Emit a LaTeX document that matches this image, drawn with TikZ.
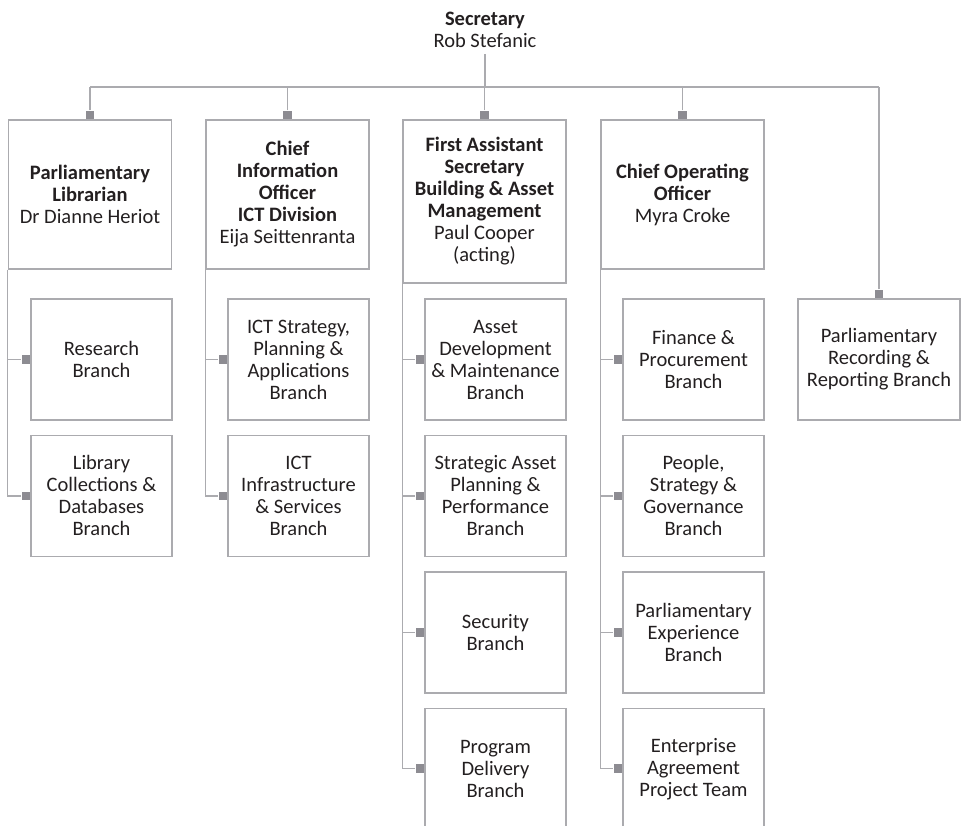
\documentclass[tikz,border=0pt]{standalone}
\usepackage{fontspec}
\setmainfont{Carlito}
\usetikzlibrary{positioning}
\usetikzlibrary{calc}
\definecolor{rulegray}{HTML}{ABABAF}
\definecolor{stubgray}{HTML}{8D8C92}
\definecolor{ink}{HTML}{231F20}
\newcommand{\hd}[1]{\textbf{#1}}

\begin{document}
\begin{tikzpicture}[x=1pt,y=-1pt,
    every node/.style={font=\fontsize{20.5}{22}\selectfont, text=ink},
    head/.style={draw=rulegray, line width=1.4pt, minimum width=163pt, minimum height=149pt, align=center, inner sep=2pt},
    unit/.style={draw=rulegray, line width=1.4pt, minimum width=141pt, minimum height=121pt, align=center, inner sep=2pt},
    stub/.style={fill=stubgray, minimum size=8.5pt, inner sep=0pt},
    link/.style={draw=rulegray, line width=1.3pt}]
    \useasboundingbox (0,0) rectangle (961,826);

    % secretary and division heads
    \node[align=center, inner sep=6pt] (sec) at (485,30) {\hd{Secretary}\\Rob Stefanic};
    \coordinate (bus) at (0,87);
    \node[head] (lib) at (90,194.5) {\hd{Parliamentary}\\\hd{Librarian}\\Dr Dianne Heriot};
    \node[head] (cio) at (287.5,194.5) {\hd{Chief}\\\hd{Information}\\\hd{Officer}\\\hd{ICT Division}\\Eija Seittenranta};
    \node[head, minimum height=163pt] (fas) at (484.5,201.5) {\hd{First Assistant}\\\hd{Secretary}\\\hd{Building \& Asset}\\\hd{Management}\\Paul Cooper\\(acting)};
    \node[head] (coo) at (682.5,194.5) {\hd{Chief Operating}\\\hd{Officer}\\Myra Croke};
    \node[unit, minimum width=162pt] (rec) at (879,359.5) {Parliamentary\\Recording \&\\Reporting Branch};

    % branches
    \node[unit] (res) at (101.5,359.5) {Research\\Branch};
    \node[unit, below=14pt of res] (libcol) {Library\\Collections \&\\Databases\\Branch};
    \node[unit] (ictsp) at (298.5,359.5) {ICT Strategy,\\Planning \&\\Applications\\Branch};
    \node[unit, below=14pt of ictsp] (ictis) {ICT\\Infrastructure\\\& Services\\Branch};
    \node[unit] (adm) at (495.5,359.5) {Asset\\Development\\\& Maintenance\\Branch};
    \node[unit, below=14pt of adm] (sapp) {Strategic Asset\\Planning \&\\Performance\\Branch};
    \node[unit, below=14pt of sapp] (secb) {Security\\Branch};
    \node[unit, below=14pt of secb] (prog) {Program\\Delivery\\Branch};
    \node[unit] (fin) at (693.5,359.5) {Finance \&\\Procurement\\Branch};
    \node[unit, below=14pt of fin] (psg) {People,\\Strategy \&\\Governance\\Branch};
    \node[unit, below=14pt of psg] (pexp) {Parliamentary\\Experience\\Branch};
    \node[unit, below=14pt of pexp] (eapt) {Enterprise\\Agreement\\Project Team};

    % connectors from the secretary
    \draw[link] (sec.south) -- (sec.south |- bus);
    \foreach \n in {lib,cio,fas,coo,rec} {
        \node[stub, anchor=south] (\n-t) at (\n.north) {};
        \draw[link] (\n-t) -- (\n-t |- bus);
    }
    \draw[link] (lib-t |- bus) -- (rec-t |- bus);

    % connectors to the branches
    \foreach \n in {res,libcol,ictsp,ictis,adm,sapp,secb,prog,fin,psg,pexp,eapt}
        \node[stub, anchor=east] (\n-s) at (\n.west) {};
    \draw[link] (lib.south west) |- (libcol-s);
    \draw[link] (lib.south west |- res-s) -- (res-s);
    \draw[link] (cio.south west) |- (ictis-s);
    \draw[link] (cio.south west |- ictsp-s) -- (ictsp-s);
    \draw[link] (fas.south west) |- (prog-s);
    \draw[link] (fas.south west |- adm-s) -- (adm-s);
    \draw[link] (fas.south west |- sapp-s) -- (sapp-s);
    \draw[link] (fas.south west |- secb-s) -- (secb-s);
    \draw[link] (coo.south west) |- (eapt-s);
    \draw[link] (coo.south west |- fin-s) -- (fin-s);
    \draw[link] (coo.south west |- psg-s) -- (psg-s);
    \draw[link] (coo.south west |- pexp-s) -- (pexp-s);
\end{tikzpicture}
\end{document}
